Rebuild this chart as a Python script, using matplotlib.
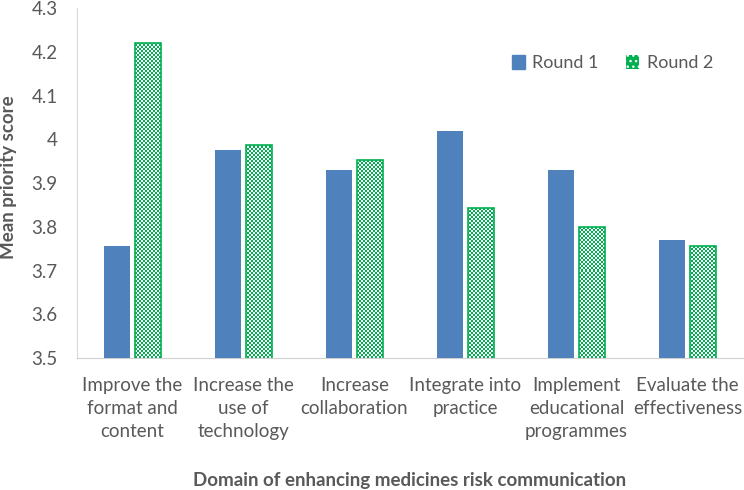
import numpy as np
import matplotlib.pyplot as plt
from matplotlib.colors import ListedColormap
from matplotlib.patches import Patch

plt.rcParams['font.family'] = ['Lato', 'DejaVu Sans']

# Mean priority scores per domain
categories = ['Improve the\nformat and\ncontent', 'Increase the\nuse of\ntechnology',
              'Increase\ncollaboration', 'Integrate into\npractice',
              'Implement\neducational\nprogrammes', 'Evaluate the\neffectiveness']
round1 = [3.755, 3.976, 3.930, 4.018, 3.930, 3.770]
round2 = [4.220, 3.988, 3.952, 3.844, 3.800, 3.755]
yticks = [3.5, 3.6, 3.7, 3.8, 3.9, 4.0, 4.1, 4.2, 4.3]
ytick_labels = ['3.5', '3.6', '3.7', '3.8', '3.9', '4', '4.1', '4.2', '4.3']

blue = '#4F81BD'
green = '#00B050'
grey = '#595959'

fig = plt.figure(figsize=(7.44, 4.9), dpi=100)
# axes placed on whole pixels so the 2px checker cells stay regular
ax = fig.add_axes([77 / 744, 132 / 490, 666 / 744, 350 / 490])

x = np.arange(len(categories))
w = 0.23
ax.bar(x - 0.142, round1, w, color=blue, zorder=3)
bars2 = ax.bar(x + 0.142, round2, w, facecolor='none', edgecolor=green,
               linewidth=1.2, zorder=4)

# checkerboard fill for the round 2 bars
checker = np.indices((175, 333)).sum(axis=0) % 2
cmap = ListedColormap(['white', green])
for b in bars2:
    im = ax.imshow(checker, cmap=cmap, extent=(-0.5, 5.5, 3.5, 4.3),
                   aspect='auto', interpolation='nearest', zorder=3)
    im.set_clip_path(b)
ax.set_xlim(-0.5, 5.5)
ax.set_ylim(3.5, 4.3)

ax.set_xticks(x)
ax.set_xticklabels(categories, fontsize=13.5, color=grey, linespacing=1.45)
ax.set_yticks(yticks)
ax.set_yticklabels(ytick_labels, fontsize=13.5, color=grey)
ax.tick_params(axis='x', length=0, pad=13.5)
ax.tick_params(axis='y', length=0, pad=14)

for s in ['top', 'right']:
    ax.spines[s].set_visible(False)
ax.spines['left'].set_color('#D9D9D9')
ax.spines['bottom'].set_color('#D0D0D0')

ax.set_xlabel('Domain of enhancing medicines risk communication',
              fontsize=13.5, fontweight='bold', color=grey, labelpad=23)
fig.text(9 / 744, 0.639, 'Mean priority score', rotation=90, ha='center',
         va='center', fontsize=13.5, fontweight='bold', color=grey)

handles = [Patch(facecolor=blue, edgecolor=blue),
           Patch(facecolor=green, edgecolor='white', linewidth=0, hatch='...')]
fig.legend(handles, ['Round 1', 'Round 2'], loc='center', ncol=2,
           bbox_to_anchor=(0.823, 0.871), frameon=False, fontsize=13,
           handlelength=0.75, handleheight=0.75, handletextpad=0.4,
           columnspacing=1.5, labelcolor=grey)

fig.savefig('out.png', dpi=100)
